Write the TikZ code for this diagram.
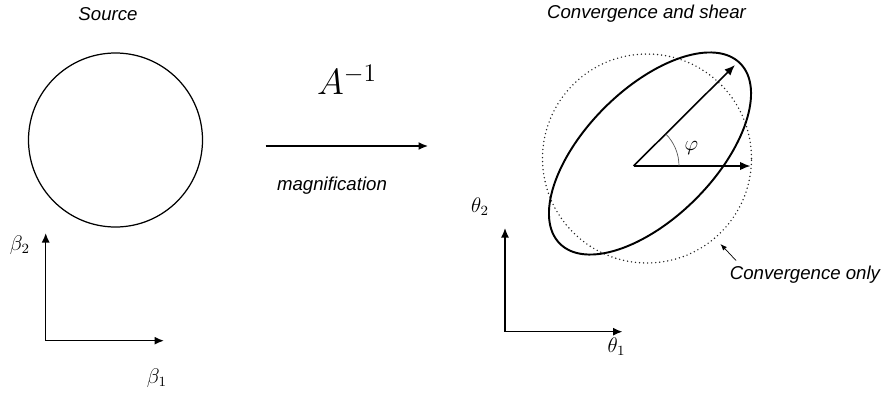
\documentclass[tikz,border=0pt]{standalone}
\usepackage{fontspec}
\setmainfont{Liberation Sans}
\usetikzlibrary{arrows.meta}

\begin{document}
\begin{tikzpicture}[
    every node/.style={font=\fontsize{10.6}{13}\selectfont\itshape},
    axis/.style={-{Latex[length=1.9mm,width=1.6mm]}, line width=0.8pt},
    vec/.style={-{Latex[length=2.1mm,width=1.7mm]}, line width=0.9pt},
    mathlbl/.style={font=\fontsize{12}{14}\selectfont}]
    \useasboundingbox (0,0) rectangle (17.66,7.84);
    % source plane
    \draw[line width=0.7pt] (2.31,5.04) circle (1.74);
    \node (src) at (2.16,7.56) {Source};
    \coordinate (b0) at (0.914,1.026);
    \coordinate (b1) at (3.28,1.026);
    \coordinate (b2) at (0.914,3.18);
    \draw[axis] (b0) -- (b1);
    \draw[axis] (b0) -- (b2);
    \node[mathlbl] (beta1) at (3.14,0.28) {$\beta_1$};
    \node[mathlbl] (beta2) at (0.40,2.94) {$\beta_2$};
    % lens mapping
    \coordinate (mapL) at (5.31,4.92);
    \coordinate (mapR) at (8.56,4.92);
    \draw[axis] (mapL) -- (mapR);
    \node[font=\fontsize{21}{24}\selectfont] (ainv) at (6.94,6.25) {$A^{-1}$};
    \node (magn) at (6.64,4.12) {magnification};
    % image plane
    \node (cs) at (12.93,7.56) {Convergence and shear};
    \draw[line width=0.9pt, line cap=round, dash pattern=on 0pt off 2.3pt, black!85]
        (12.94,4.67) circle (2.09);
    \draw[line width=1.1pt, rotate around={45:(13.0,4.77)}] (13.0,4.77) ellipse (2.55 and 1.29);
    \coordinate (o) at (12.67,4.52);
    \coordinate (sx) at (15.01,4.52);
    \coordinate (sd) at (14.70,6.54);
    \draw[vec] (o) -- (sx);
    \draw[vec] (o) -- (sd);
    \draw[line width=0.4pt, gray!70!black] ([shift={(0:0.91)}]o) arc[start angle=0, end angle=45, radius=0.91];
    \node[mathlbl] (phi) at (13.83,4.87) {$\varphi$};
    \coordinate (ptail) at (14.72,2.63);
    \coordinate (ptip) at (14.41,2.96);
    \draw[-{Latex[length=1.3mm,width=1mm]}, line width=0.4pt] (ptail) -- (ptip);
    \node (conv) at (16.1,2.34) {Convergence only};
    \coordinate (t0) at (10.1,1.206);
    \coordinate (t1) at (12.45,1.206);
    \coordinate (t2) at (10.1,3.28);
    \draw[axis] (t0) -- (t1);
    \draw[axis] (t0) -- (t2);
    \node[mathlbl] (theta1) at (12.33,0.906) {$\theta_1$};
    \node[mathlbl] (theta2) at (9.6,3.71) {$\theta_2$};
\end{tikzpicture}
\end{document}
